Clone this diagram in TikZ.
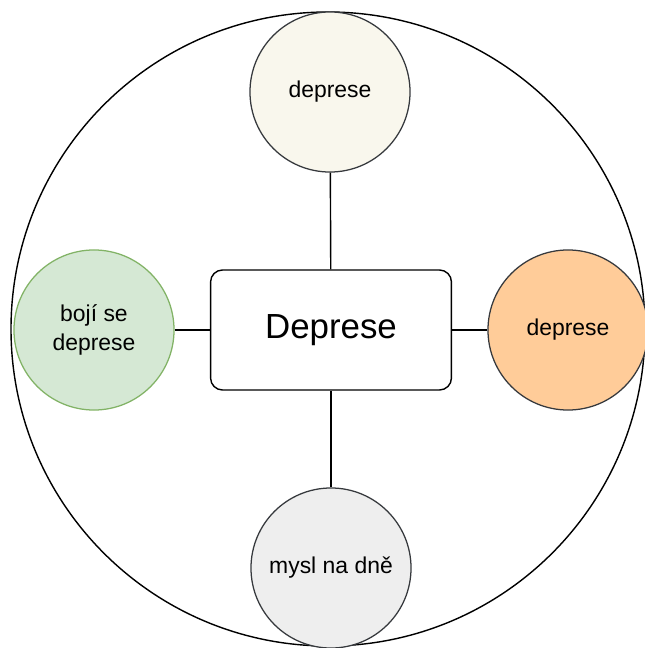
\documentclass[tikz,border=0pt]{standalone}
\usepackage{fontspec}
\setmainfont{Liberation Sans}
\usetikzlibrary{calc}

\definecolor{beigefill}{HTML}{F9F7ED}
\definecolor{greenfill}{HTML}{D5E8D4}
\definecolor{greenline}{HTML}{82B366}
\definecolor{orangefill}{HTML}{FFCC99}
\definecolor{greyfill}{HTML}{EEEEEE}
\definecolor{darkline}{HTML}{36393D}

\begin{document}
\begin{tikzpicture}[x=0.025cm,y=-0.025cm,
  topic/.style={circle,draw=darkline,line width=0.9pt,minimum size=4cm,inner sep=0pt,align=center,font=\fontsize{16.3}{21}\selectfont},
  core/.style={draw,rounded corners=0.3cm,line width=1pt,minimum width=6.02cm,minimum height=3cm,font=\fontsize{24.8}{28}\selectfont},
  link/.style={line width=1pt}]
  \useasboundingbox (0,0) rectangle (644,648);

  \coordinate (hub) at (328,329);
  \draw[line width=1pt] (hub) circle [radius=317];

  \node[core] (deprese) at (331,330) {Deprese};

  \node[topic,fill=beigefill] (top) at (330,92) {deprese};
  \node[topic,fill=greenfill,draw=greenline] (left) at (94,330) {bojí se\\deprese};
  \node[topic,fill=orangefill] (right) at (568,330) {deprese};
  \node[topic,fill=greyfill] (bottom) at (331,568) {mysl na dně};

  \draw[link] (top) -- (deprese);
  \draw[link] (left) -- (deprese);
  \draw[link] (right) -- (deprese);
  \draw[link] (bottom) -- (deprese);
\end{tikzpicture}
\end{document}
